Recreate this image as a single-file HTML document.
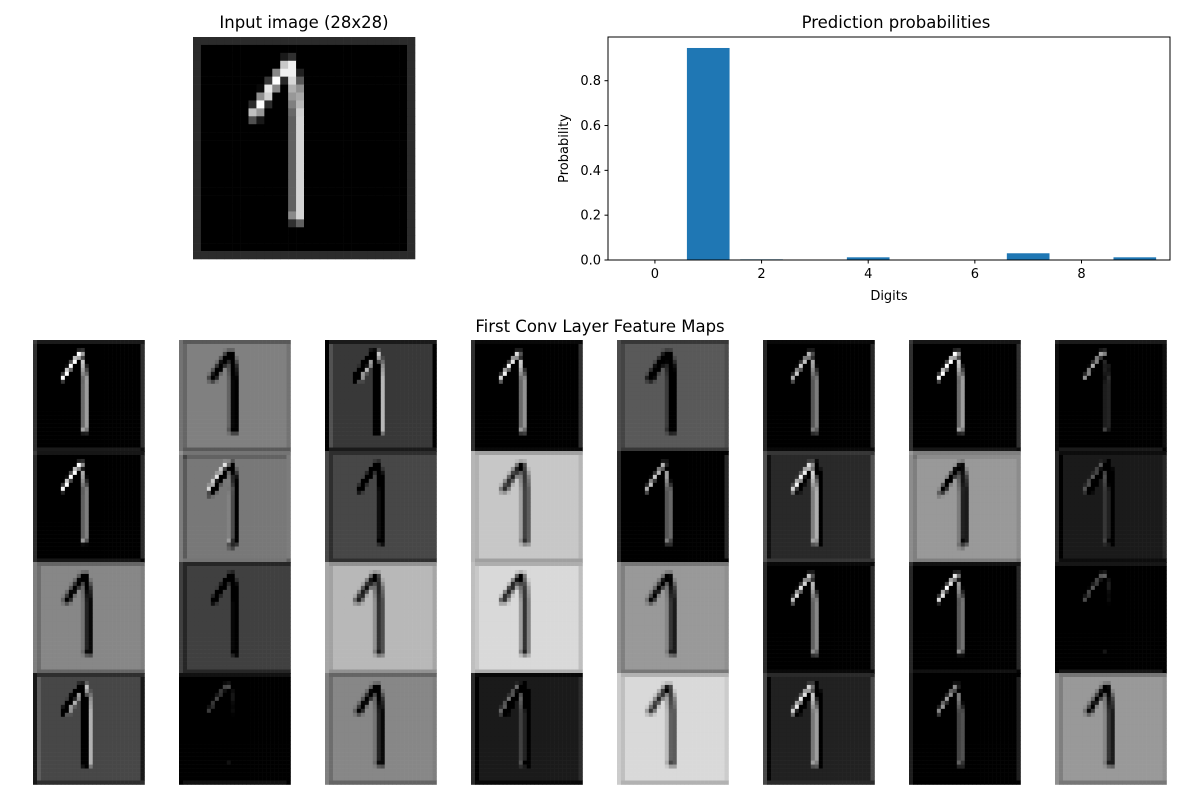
<!DOCTYPE html>
<html><head><meta charset="utf-8"><style>
html,body{margin:0;padding:0;background:#fff;}
svg{display:block;font-family:"DejaVu Sans","Liberation Sans",sans-serif;}
</style></head><body>
<svg id="fig" width="1200" height="800" viewBox="0 0 1200 800">
<text x="304" y="28" font-size="16.5" text-anchor="middle" fill="#000">Input image (28x28)</text>
<g id="inputImg"></g>
<text x="896" y="28" font-size="16.5" text-anchor="middle" fill="#000">Prediction probabilities</text>
<g id="bars"></g>
<text x="600" y="332" font-size="16.5" text-anchor="middle" fill="#000">First Conv Layer Feature Maps</text>
<g id="maps"></g>
</svg>
<script>
const NS="http://www.w3.org/2000/svg";
const digits=[0,1,2,3,4,5,6,7,8,9];
const probs=[0.001,0.946,0.003,0.001,0.012,0.001,0.001,0.03,0.001,0.012];
const yTicks=[0,0.2,0.4,0.6,0.8];
const yTickLabels=["0.0","0.2","0.4","0.6","0.8"];
const xTicks=[0,2,4,6,8];
// input digit pixels: [row, col, gray(0-255)]
const pixels=[[2,11,26],[2,12,48],[3,11,200],[3,12,240],[4,10,136],[4,11,240],[4,12,240],[4,13,32],
[5,9,56],[5,10,255],[5,11,40],[5,12,216],[5,13,88],[6,8,8],[6,9,232],[6,10,136],[6,12,176],[6,13,144],
[7,8,144],[7,9,208],[7,12,152],[7,13,168],[8,7,44],[8,8,255],[8,9,44],[8,12,128],[8,13,184],
[9,7,192],[9,8,152],[9,12,104],[9,13,208],[10,7,80],[10,8,24],[10,12,96],[10,13,212],
[11,12,96],[11,13,212],[12,12,96],[12,13,212],[13,12,96],[13,13,212],[14,12,96],[14,13,212],
[15,12,96],[15,13,212],[16,12,96],[16,13,212],[17,12,96],[17,13,212],[18,12,96],[18,13,212],
[19,12,96],[19,13,212],[20,12,96],[20,13,212],[21,12,96],[21,13,212],[22,12,138],[22,13,212],[23,12,48],[23,13,96]];
const borderGray=43;
// feature map params [bg, center, xGrad, yGrad]
const mapParams=[
[0,0.3,0.8,0.3],[0.5,-0.9,0.6,0],[0.22,-0.7,-0.6,0],[0,0.2,0.9,0],[0.35,-0.8,0.5,0],[0,0.2,0.7,0],[0,0.3,0.8,0.2],[0,0,0.3,0.6],
[0,0.1,0.9,0.4],[0.47,-0.6,0.7,0.5],[0.28,-0.6,0.6,0],[0.78,-0.9,0.5,0],[0,0,0.9,0],[0.16,0.3,0.6,0],[0.6,-0.9,0.6,0.3],[0.1,-0.3,0.6,0],
[0.53,-0.8,0.6,0],[0.25,-0.6,0.6,0],[0.72,-0.9,0.5,0],[0.85,-1,0.4,0],[0.6,-0.8,0.6,0],[0,0.2,0.8,0],[0,0.1,0.8,0.3],[0,0,0,0.5],
[0.28,-0.6,-0.5,0],[0,0,0,0.4],[0.53,-0.8,0.6,0],[0.1,-0.4,0.8,0],[0.85,-0.9,0.6,0],[0.13,0.2,0.7,0],[0,0,0.7,0],[0.6,-0.8,0.6,0]];

function el(tag,attrs,parent){const e=document.createElementNS(NS,tag);for(const k in attrs)e.setAttribute(k,attrs[k]);parent.appendChild(e);return e;}
// build image array
const img=[];for(let r=0;r<28;r++){img.push([]);for(let c=0;c<28;c++){img[r].push((r==0||c==0||r==27||c==27)?borderGray/255:0);}}
pixels.forEach(p=>{img[p[0]][p[1]]=p[2]/255;});
function px(r,c){return(r<0||c<0||r>27||c>27)?0:img[r][c];}
function g(v){v=Math.max(0,Math.min(1,v));const s=Math.round(v*255);return "rgb("+s+","+s+","+s+")";}

// input image
const ig=document.getElementById('inputImg');
const ix=193,iy=37,isz=222/28;
for(let r=0;r<28;r++)for(let c=0;c<28;c++){
 const rc=el('rect',{x:ix+c*isz,y:iy+r*isz,width:isz+0.3,height:isz+0.3,fill:g(img[r][c])},ig);
 
 
}

// bar chart
const bg=document.getElementById('bars');
const L=608,R=1170,T=37,B=260;
const xmin=-0.88,xmax=9.66,ymax=0.995;
function sx(v){return L+(v-xmin)/(xmax-xmin)*(R-L);}
function sy(v){return B-v/ymax*(B-T);}
digits.forEach((d,i)=>{
 const b=el('rect',{x:sx(d-0.4),y:sy(probs[i]),width:sx(d+0.4)-sx(d-0.4),height:B-sy(probs[i]),fill:'#1f77b4'},bg);
 
 
});
const fr=el('rect',{x:L,y:T,width:R-L,height:B-T,fill:'none',stroke:'#000','stroke-width':1},bg);


yTicks.forEach((v,i)=>{
 el('line',{x1:L-3.5,x2:L,y1:sy(v),y2:sy(v),stroke:'#000'},bg);
 const t=el('text',{x:L-7,y:sy(v)+4.5,'font-size':13,'text-anchor':'end',fill:'#000'},bg);
 t.textContent=yTickLabels[i];
 
 
});
xTicks.forEach(v=>{
 el('line',{x1:sx(v),x2:sx(v),y1:B,y2:B+3.5,stroke:'#000'},bg);
 const t=el('text',{x:sx(v),y:B+18,'font-size':13,'text-anchor':'middle',fill:'#000'},bg);
 t.textContent=String(v);
 
 
});
const xl=el('text',{x:(L+R)/2,y:300,'font-size':13,'text-anchor':'middle',fill:'#000'},bg);
xl.textContent='Digits';


const yl=el('text',{x:0,y:0,'font-size':13,'text-anchor':'middle',fill:'#000',transform:'translate(568,'+((T+B)/2)+') rotate(-90)'},bg);
yl.textContent='Probability';



// feature maps
const mg=document.getElementById('maps');
const colX=[33,179,325,471,617,763,909,1055],rowY=[340,451,562,673],csz=111.5/28;
mapParams.forEach((p,k)=>{
 const gr=el('g',{},mg);
 
 
 const ox=colX[k%8],oy=rowY[Math.floor(k/8)];
 for(let r=0;r<28;r++)for(let c=0;c<28;c++){
  const I=px(r,c);
  const v=p[0]+p[1]*I+p[2]*(I-px(r,c-1))+p[3]*(I-px(r-1,c));
  el('rect',{x:ox+c*csz,y:oy+r*csz,width:csz+0.3,height:csz+0.3,fill:g(v)},gr);
 }
});
</script>
</body></html>
